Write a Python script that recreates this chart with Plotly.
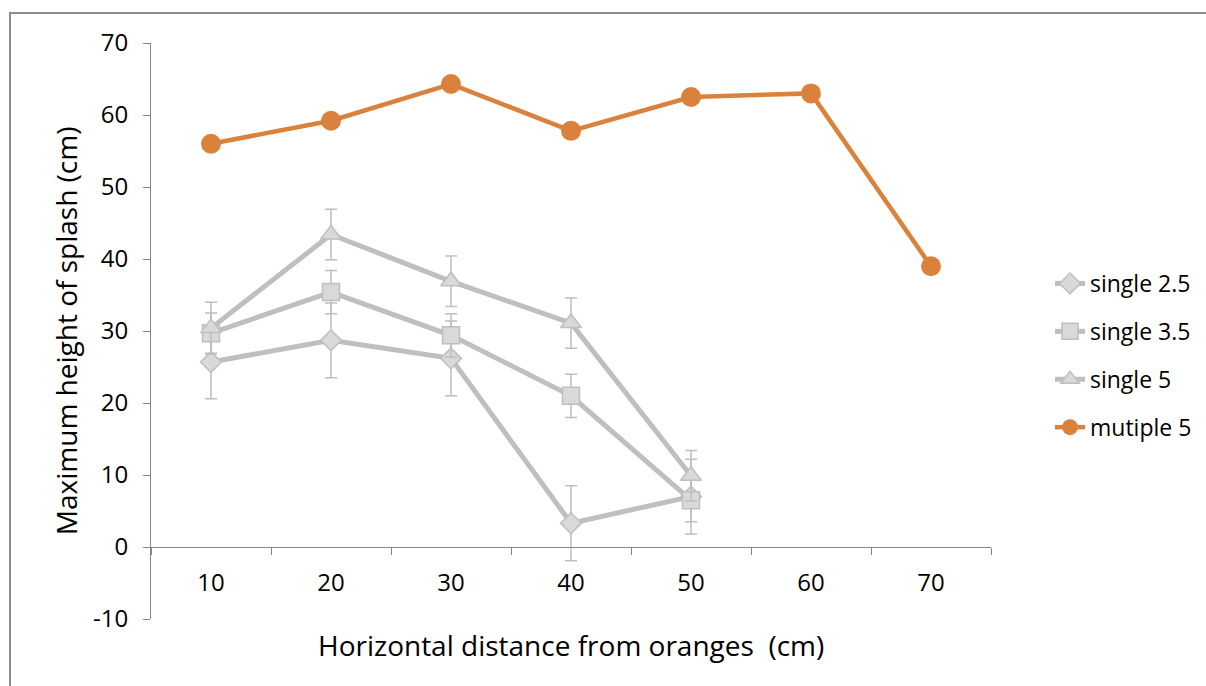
import plotly.graph_objects as go

# Horizontal distance categories (cm)
distances = ["10", "20", "30", "40", "50", "60", "70"]

# Y axis ticks (hyphen minus for the negative label)
y_ticks = [-10, 0, 10, 20, 30, 40, 50, 60, 70]
y_tick_text = ["-10", "0", "10", "20", "30", "40", "50", "60", "70"]

# Maximum splash height (cm) and standard deviations for single drops
single_25 = [25.7, 28.7, 26.2, 3.3, 7.0]
single_25_err = [5.1, 5.2, 5.2, 5.2, 5.2]

single_35 = [29.7, 35.4, 29.4, 21.0, 6.5]
single_35_err = [2.8, 3.0, 3.0, 3.0, 3.0]

single_5 = [30.4, 43.4, 36.9, 31.1, 9.9]
single_5_err = [3.6, 3.5, 3.5, 3.5, 3.5]

# Multiple drops
multiple_5 = [56.0, 59.2, 64.3, 57.8, 62.5, 63.0, 39.0]

GRAY_LINE = "#BFBFBF"
GRAY_FILL = "#D9D9D9"
ORANGE = "#DA823C"
AXIS = "#868686"
FONT = "Open Sans"

W, H = 1206, 686

fig = go.Figure()


def gray_series(name, values, errors, symbol, size):
    fig.add_trace(go.Scatter(
        x=distances[:len(values)], y=values, name=name, legendgroup=name,
        mode="lines+markers",
        line=dict(color=GRAY_LINE, width=5),
        marker=dict(symbol=symbol, size=size, color=GRAY_FILL,
                    line=dict(color=GRAY_LINE, width=1.5)),
        error_y=dict(type="data", array=errors, visible=True,
                     color=GRAY_LINE, thickness=1.5, width=6),
    ))


gray_series("single 2.5", single_25, single_25_err, "diamond", 16)
gray_series("single 3.5", single_35, single_35_err, "square", 17)
gray_series("single 5", single_5, single_5_err, "triangle-up", 18)

fig.add_trace(go.Scatter(
    x=distances, y=multiple_5, name="mutiple 5", legendgroup="mutiple 5",
    mode="lines+markers",
    line=dict(color=ORANGE, width=4.5),
    marker=dict(symbol="circle", size=20, color=ORANGE),
))

fig.update_layout(
    width=W, height=H,
    margin=dict(l=151, r=215, t=43, b=67, autoexpand=False),
    paper_bgcolor="white", plot_bgcolor="white",
    font=dict(family=FONT, size=23, color="black"),
    showlegend=True,
    legend=dict(xref="container", yref="container",
                x=1050 / W, y=1 - 262 / H, xanchor="left", yanchor="top",
                font=dict(family=FONT, size=23, color="black"),
                tracegroupgap=15, bgcolor="rgba(0,0,0,0)"),
    xaxis=dict(
        type="category", categoryorder="array", categoryarray=distances,
        range=[-0.5, 6.5], tickson="boundaries",
        ticks="outside", ticklen=7, tickcolor=AXIS, tickwidth=1,
        showline=True, linecolor=AXIS, linewidth=1,
        showgrid=False, zeroline=False,
        anchor="free", position=0.125,
        ticklabelstandoff=14,
        tickfont=dict(family=FONT, size=24, color="black"),
    ),
    yaxis=dict(
        range=[-10, 70], tickmode="array", tickvals=y_ticks, ticktext=y_tick_text,
        ticks="outside", ticklen=7, tickcolor=AXIS, tickwidth=1,
        showline=True, linecolor=AXIS, linewidth=1,
        showgrid=False, zeroline=False,
        ticklabelstandoff=10,
        tickfont=dict(family=FONT, size=24, color="black"),
    ),
    annotations=[
        dict(text="Maximum height of splash (cm)", textangle=-90,
             xref="paper", yref="paper", x=-0.101, y=0.5,
             xanchor="center", yanchor="middle", showarrow=False,
             font=dict(family=FONT, size=28, color="black")),
        dict(text="Horizontal distance from oranges  (cm)",
             xref="paper", yref="paper", x=0.5, y=-0.045,
             xanchor="center", yanchor="middle", showarrow=False,
             font=dict(family=FONT, size=28, color="black")),
    ],
    shapes=[
        # chart frame (open at the right and bottom)
        dict(type="rect", xref="paper", yref="paper",
             x0=(10 - 151) / 840, x1=(1230 - 151) / 840,
             y0=(619 - 720) / 576, y1=(619 - 13) / 576,
             line=dict(color="#8C8C8C", width=2), fillcolor="rgba(0,0,0,0)",
             layer="below"),
    ],
)

fig.write_html("out.html")
